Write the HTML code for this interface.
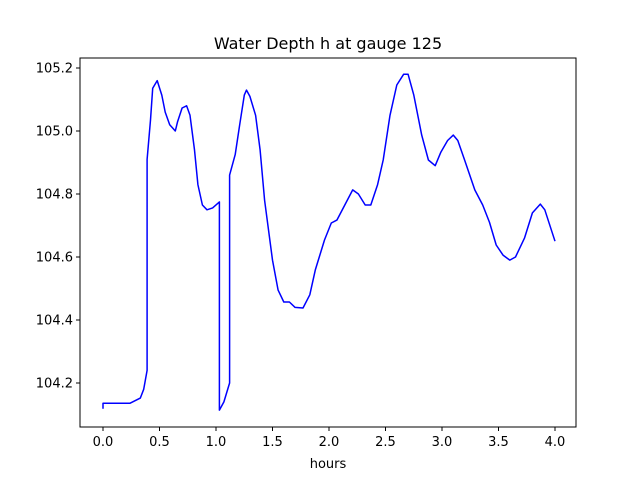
<!DOCTYPE html>
<html><head><meta charset="utf-8"><style>
body{margin:0;background:#fff}
svg text{font-family:"DejaVu Sans","Liberation Sans",sans-serif;}
</style></head><body>
<svg id="c" width="640" height="480"></svg>
<script>
const times=[0,0,0.24,0.33,0.36,0.39,0.39,0.42,0.44,0.48,0.52,0.55,0.59,0.64,0.66,0.70,0.74,0.77,0.81,0.84,0.88,0.92,0.97,1.03,1.03,1.07,1.12,1.12,1.17,1.21,1.25,1.27,1.30,1.35,1.39,1.43,1.50,1.55,1.60,1.65,1.70,1.77,1.83,1.88,1.96,2.02,2.07,2.14,2.21,2.26,2.32,2.37,2.43,2.48,2.54,2.60,2.66,2.70,2.75,2.82,2.88,2.94,2.99,3.05,3.10,3.14,3.20,3.29,3.36,3.42,3.48,3.54,3.60,3.65,3.73,3.80,3.87,3.91,4.0];
const depth=[104.118,104.136,104.136,104.152,104.18,104.24,104.91,105.035,105.136,105.16,105.114,105.06,105.02,105.0,105.03,105.073,105.08,105.05,104.94,104.83,104.765,104.75,104.756,104.775,104.114,104.14,104.2,104.86,104.925,105.02,105.114,105.13,105.11,105.05,104.94,104.78,104.59,104.495,104.457,104.457,104.44,104.438,104.48,104.56,104.654,104.708,104.717,104.765,104.813,104.8,104.765,104.765,104.83,104.908,105.05,105.146,105.18,105.18,105.114,104.987,104.908,104.89,104.933,104.97,104.987,104.97,104.908,104.813,104.765,104.71,104.638,104.606,104.59,104.6,104.66,104.74,104.768,104.75,104.65];
const xTicks=[0,0.5,1,1.5,2,2.5,3,3.5,4];
const yTicks=[104.2,104.4,104.6,104.8,105.0,105.2];
const NS="http://www.w3.org/2000/svg",svg=document.getElementById('c');
const L=80,R=576,T=58,B=427;
const xs=t=>103+t*113, ys=h=>68+(105.2-h)*315;
function mk(tag,a){const e=document.createElementNS(NS,tag);for(const k in a)e.setAttribute(k,a[k]);svg.appendChild(e);return e;}
let d=times.map((t,i)=>(i?'L':'M')+xs(t).toFixed(1)+','+ys(depth[i]).toFixed(1)).join('');
const line=mk('path',{d:d,fill:'none',stroke:'#0000ff','stroke-width':1.5,'stroke-linejoin':'round'});


const fr=mk('rect',{x:L,y:T,width:R-L,height:B-T,fill:'none',stroke:'#000','stroke-width':1});


xTicks.forEach(v=>{const x=xs(v);mk('line',{x1:x,x2:x,y1:B,y2:B+4,stroke:'#000'});
const t=mk('text',{x:x,y:B+19,'text-anchor':'middle','font-size':13});t.textContent=v.toFixed(1);

});
yTicks.forEach(v=>{const y=ys(v);mk('line',{x1:L-4,x2:L,y1:y,y2:y,stroke:'#000'});
const t=mk('text',{x:L-7,y:y+4.5,'text-anchor':'end','font-size':13});t.textContent=v.toFixed(1);

});
const xt=mk('text',{x:328,y:468,'text-anchor':'middle','font-size':13});xt.textContent='hours';


const ti=mk('text',{x:328,y:49,'text-anchor':'middle','font-size':16});ti.textContent='Water Depth h at gauge 125';


</script>
</body></html>
